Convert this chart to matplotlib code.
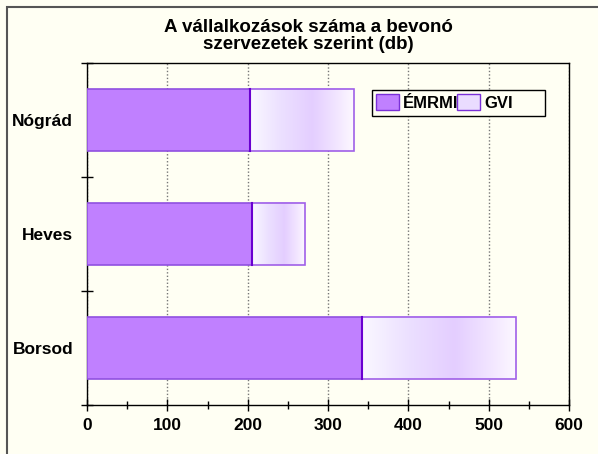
import numpy as np
import matplotlib.pyplot as plt
from matplotlib.patches import Patch, Rectangle
from matplotlib.colors import LinearSegmentedColormap
from matplotlib.ticker import MultipleLocator

# Data
categories = ['Borsod', 'Heves', 'Nógrád']
emrmi = [342, 205, 203]
gvi = [192, 66, 129]

title = 'A vállalkozások száma a bevonó\nszervezetek szerint (db)'

plt.rcParams['font.family'] = ['Liberation Sans', 'DejaVu Sans']
plt.rcParams['font.weight'] = 'bold'

bg = '#FFFFF3'
fig = plt.figure(figsize=(5.98, 4.54), dpi=100, facecolor=bg)
ax = fig.add_axes([87/598, 1 - 405/454, 482/598, 342/454])
ax.set_facecolor(bg)

# outer chart border
fig.patches.append(Rectangle((7/598, -0.05), 1.1, 1 - 7/454 + 0.05,
                             transform=fig.transFigure, fill=False,
                             edgecolor='#555555', linewidth=1.5))

y = np.arange(len(categories))
h = 0.55

ax.barh(y, emrmi, height=h, color='#C080FF', edgecolor='#9050E0',
        linewidth=1.2, zorder=3)

# gradient fill for GVI segment
grad = LinearSegmentedColormap.from_list('gvi', [
    (0.0, (250/255, 248/255, 1.0)),
    (0.3, (236/255, 224/255, 1.0)),
    (0.6, (228/255, 206/255, 1.0)),
    (0.8, (240/255, 226/255, 1.0)),
    (1.0, (253/255, 248/255, 1.0))])
ramp = np.linspace(0, 1, 256).reshape(1, -1)
for yi, a, b in zip(y, emrmi, gvi):
    ax.imshow(ramp, cmap=grad, extent=[a, a + b, yi - h/2, yi + h/2],
              aspect='auto', zorder=3, interpolation='bilinear')
    ax.add_patch(Rectangle((a, yi - h/2), b, h, fill=False,
                           edgecolor='#A060E8', linewidth=1.2, zorder=4))
    ax.plot([a, a], [yi - h/2, yi + h/2], color='#6A00D0', lw=1.5, zorder=5)

ax.set_xlim(0, 600)
ax.set_ylim(-0.5, 2.5)
ax.xaxis.set_major_locator(MultipleLocator(100))
ax.xaxis.set_minor_locator(MultipleLocator(50))
ax.set_yticks([-0.5, 0.5, 1.5, 2.5])
ax.set_yticklabels([])
ax.set_yticks(y, minor=True)
ax.set_yticklabels(categories, minor=True)
ax.tick_params(axis='y', which='minor', length=0, pad=10, labelsize=12.5)
ax.tick_params(axis='y', which='major', direction='inout', length=8, width=1)
ax.tick_params(axis='x', which='major', direction='inout', length=8, width=1,
               labelsize=12.5, pad=5)
ax.tick_params(axis='x', which='minor', direction='inout', length=6, width=1)
for lab in ax.get_xticklabels() + ax.get_yticklabels(minor=True):
    lab.set_fontweight('bold')

ax.grid(axis='x', which='major', color='#777777', linestyle=(0, (1, 1.5)),
        linewidth=1, zorder=1)
ax.set_axisbelow(True)
for s in ax.spines.values():
    s.set_color('black')
    s.set_linewidth(1)

fig.text(308/598, 1 - 36/454, title, ha='center', va='center',
         fontsize=13.5, fontweight='bold', linespacing=1.0)

# legend box drawn separately (wider than the entries)
ax.add_patch(Rectangle((0.591, 0.845), 0.359, 0.076, transform=ax.transAxes,
                       facecolor=bg, edgecolor='black', linewidth=1,
                       zorder=6))
handles = [Patch(facecolor='#C080FF', edgecolor='#7A30D8', label='ÉMRMI'),
           Patch(facecolor='#EADCFF', edgecolor='#7A30D8', label='GVI')]
leg = ax.legend(handles=handles, ncol=2, loc='upper left',
                bbox_to_anchor=(0.591, 0.921), frameon=False,
                prop={'weight': 'bold', 'size': 12}, handlelength=1.38,
                handleheight=1.05, handletextpad=0.25, columnspacing=-0.1,
                borderpad=0.25, borderaxespad=0)
leg.set_zorder(7)

fig.savefig('out.png', dpi=100, facecolor=bg)
